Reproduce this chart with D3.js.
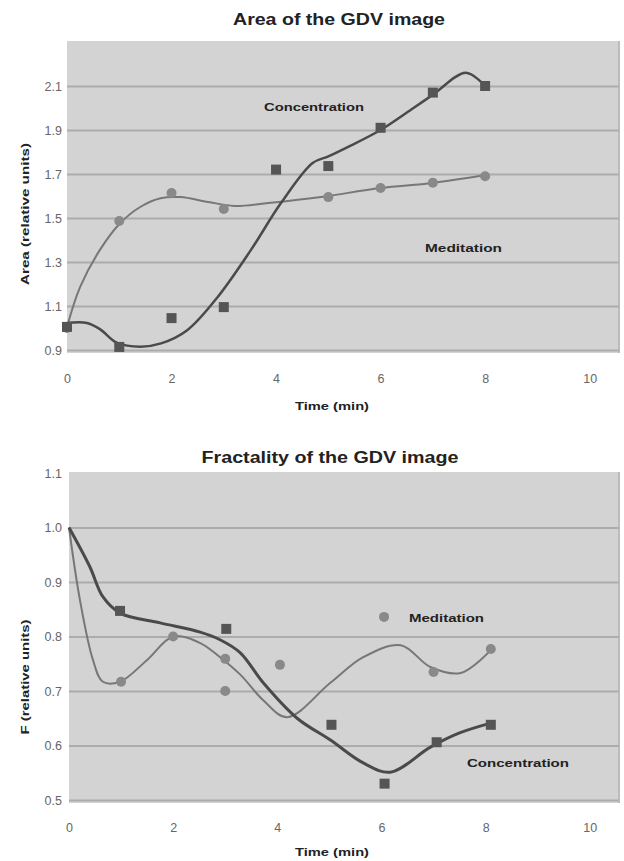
<!DOCTYPE html>
<html><head><meta charset="utf-8">
<script src="https://cdn.jsdelivr.net/npm/d3@7"></script>
<style>
body{margin:0;background:#fff;}
svg{display:block;font-family:"Liberation Sans",Arial,sans-serif;}
</style></head>
<body><svg id="c" width="624" height="861"></svg>
<script>
// ---------- DATA ----------
const xTicks = [0, 2, 4, 6, 8, 10];

// Chart 1: Area of the GDV image
const areaYTicks = [0.9, 1.1, 1.3, 1.5, 1.7, 1.9, 2.1];
const areaConcX = [0, 1, 2, 3, 4, 5, 6, 7, 8];
const areaConcY = [1.005, 0.914, 1.045, 1.095, 1.72, 1.736, 1.91, 2.07, 2.1];
const areaMedX = [0, 1, 2, 3, 5, 6, 7, 8];
const areaMedY = [1.0, 1.486, 1.614, 1.541, 1.595, 1.636, 1.66, 1.69];
const areaConcTrendX = [0, 0.38, 0.63, 0.96, 1.4, 1.8, 2.3, 2.88, 3.52, 4.1, 4.7, 5.0, 5.35, 6.0, 6.63, 7.0, 7.63, 8.0];
const areaConcTrendY = [1.023, 1.023, 0.995, 0.932, 0.915, 0.93, 0.99, 1.14, 1.355, 1.57, 1.75, 1.78, 1.82, 1.9, 2.0, 2.06, 2.16, 2.1];
const areaMedTrendX = [0, 0.25, 0.63, 1.02, 1.4, 1.79, 2.17, 2.7, 3.2, 3.85, 4.67, 5.0, 6.0, 7.0, 8.0];
const areaMedTrendY = [1.005, 1.186, 1.355, 1.477, 1.55, 1.59, 1.595, 1.573, 1.555, 1.568, 1.59, 1.6, 1.636, 1.659, 1.695];

// Chart 2: Fractality of the GDV image
const fracYTicks = [0.5, 0.6, 0.7, 0.8, 0.9, 1.0, 1.1];
const fracConcX = [0.98, 3.02, 5.04, 6.06, 7.06, 8.1];
const fracConcY = [0.847, 0.814, 0.638, 0.53, 0.606, 0.638];
const fracMedX = [1.0, 2.0, 3.0, 3.0, 4.05, 6.05, 7.0, 8.1];
const fracMedY = [0.717, 0.80, 0.759, 0.70, 0.748, 0.836, 0.735, 0.777];
const fracConcTrendX = [0, 0.4, 0.65, 0.98, 1.75, 2.52, 2.9, 3.29, 3.73, 4.38, 5.02, 5.65, 6.17, 6.94, 7.5, 8.1];
const fracConcTrendY = [1.0, 0.928, 0.873, 0.843, 0.825, 0.808, 0.794, 0.77, 0.715, 0.65, 0.61, 0.568, 0.551, 0.597, 0.623, 0.641];
const fracMedTrendX = [0, 0.21, 0.46, 0.65, 0.98, 1.5, 2.0, 2.52, 2.9, 3.29, 3.73, 4.19, 5.02, 5.65, 6.37, 6.94, 7.52, 8.1];
const fracMedTrendY = [1.0, 0.867, 0.757, 0.717, 0.717, 0.757, 0.80, 0.788, 0.762, 0.73, 0.683, 0.652, 0.715, 0.762, 0.784, 0.744, 0.733, 0.775];

const zip = (xs, ys) => xs.map((x, i) => [x, ys[i]]);

// ---------- DRAW ----------
const svg = d3.select("#c");
const CONC = "#4a4a4a", MED = "#777777";

function drawChart(cfg) {
  const x = d3.scaleLinear().domain([0, 10.6]).range([cfg.left, 621]);
  const y = d3.scaleLinear().domain(cfg.yDomain).range([cfg.yBottom, cfg.yTop]);
  const g = svg.append("g");

  // plot background
  g.append("rect").attr("x", cfg.left).attr("y", cfg.yTop - 1)
    .attr("width", 620 - cfg.left).attr("height", cfg.yBottom - cfg.yTop + 4)
    .attr("fill", "#d3d3d3");
  g.append("line").attr("x1", 619).attr("x2", 619).attr("y1", cfg.yTop - 1).attr("y2", cfg.yBottom + 3)
    .attr("stroke", "#bcbcbc").attr("stroke-width", 2);

  // gridlines
  const grid = g.append("g").attr("transform", `translate(${cfg.left},0)`)
    .call(d3.axisLeft(y).tickValues(cfg.yTicks.filter(v => v !== cfg.yDomain[1]))
      .tickSize(-(619 - cfg.left)).tickFormat(""));
  grid.select(".domain").remove();
  grid.selectAll(".tick line").attr("stroke", "#acacac").attr("stroke-width", 2);

  // y tick labels
  const ya = g.append("g").attr("transform", `translate(${cfg.left},0)`)
    .call(d3.axisLeft(y).tickValues(cfg.yTicks).tickSize(0).tickPadding(cfg.left - 62).tickFormat(d3.format(".1f")));
  ya.select(".domain").remove();
  ya.selectAll("text").attr("font-size", 12.5).attr("fill", "#666").attr("font-family", "Liberation Sans, Arial, sans-serif");

  // x tick labels
  const xa = g.append("g").attr("transform", `translate(0,${cfg.xLabelY})`)
    .call(d3.axisBottom(x).tickValues(xTicks).tickSize(0).tickPadding(0).tickFormat(d3.format("d")));
  xa.select(".domain").remove();
  xa.selectAll("text").attr("font-size", 12.5).attr("fill", "#666").attr("font-family", "Liberation Sans, Arial, sans-serif");

  // titles
  g.append("text").attr("x", cfg.titleX).attr("y", cfg.titleY).attr("text-anchor", "middle")
    .attr("font-size", 16).attr("font-weight", "bold").attr("fill", "#222")
    .attr("textLength", cfg.titleW).attr("lengthAdjust", "spacingAndGlyphs").text(cfg.title);
  g.append("text").attr("x", 332).attr("y", cfg.xTitleY).attr("text-anchor", "middle")
    .attr("font-size", 11.5).attr("font-weight", "bold").attr("fill", "#222")
    .attr("textLength", 74).attr("lengthAdjust", "spacingAndGlyphs").text("Time (min)");
  g.append("text").attr("transform", `translate(29,${cfg.yTitleCY}) rotate(-90)`).attr("text-anchor", "middle")
    .attr("font-size", 11.5).attr("font-weight", "bold").attr("fill", "#222")
    .attr("textLength", cfg.yTitleW).attr("lengthAdjust", "spacingAndGlyphs").text(cfg.yTitle);

  // trend curves
  const line = d3.line().x(d => x(d[0])).y(d => y(d[1])).curve(d3.curveCatmullRom.alpha(0.5));
  g.append("path").datum(cfg.medTrend).attr("d", line).attr("fill", "none")
    .attr("stroke", MED).attr("stroke-width", cfg.medW);
  g.append("path").datum(cfg.concTrend).attr("d", line).attr("fill", "none")
    .attr("stroke", CONC).attr("stroke-width", cfg.concW);

  // markers
  g.selectAll(".med").data(cfg.med).join("circle")
    .attr("cx", d => x(d[0])).attr("cy", d => y(d[1])).attr("r", 5)
    .attr("fill", "#898989");
  g.selectAll(".conc").data(cfg.conc).join("rect")
    .attr("x", d => x(d[0]) - 5).attr("y", d => y(d[1]) - 5).attr("width", 10).attr("height", 10)
    .attr("fill", "#555");

  // series labels
  cfg.labels.forEach(l => {
    g.append("text").attr("x", l.x).attr("y", l.y).attr("font-size", 11.5).attr("font-weight", "bold")
      .attr("fill", "#222").attr("textLength", l.w).attr("lengthAdjust", "spacingAndGlyphs").text(l.t);
  });
}

drawChart({
  left: 67, yDomain: [0.9, 2.3], yTop: 42, yBottom: 350, yTicks: areaYTicks,
  xLabelY: 374, xTitleY: 410, titleX: 339, titleY: 25, titleW: 212,
  title: "Area of the GDV image", yTitle: "Area (relative units)", yTitleCY: 214, yTitleW: 142,
  conc: zip(areaConcX, areaConcY), med: zip(areaMedX, areaMedY),
  concTrend: zip(areaConcTrendX, areaConcTrendY), medTrend: zip(areaMedTrendX, areaMedTrendY),
  concW: 2.5, medW: 2,
  labels: [{t: "Concentration", x: 264, y: 111, w: 100}, {t: "Meditation", x: 425, y: 252, w: 77}]
});

drawChart({
  left: 69, yDomain: [0.5, 1.1], yTop: 473, yBottom: 800, yTicks: fracYTicks,
  xLabelY: 823, xTitleY: 856, titleX: 330, titleY: 463, titleW: 257,
  title: "Fractality of the GDV image", yTitle: "F (relative units)", yTitleCY: 677, yTitleW: 115,
  conc: zip(fracConcX, fracConcY), med: zip(fracMedX, fracMedY),
  concTrend: zip(fracConcTrendX, fracConcTrendY), medTrend: zip(fracMedTrendX, fracMedTrendY),
  concW: 3, medW: 2,
  labels: [{t: "Meditation", x: 409, y: 622, w: 75}, {t: "Concentration", x: 467, y: 767, w: 102}]
});
</script></body></html>
